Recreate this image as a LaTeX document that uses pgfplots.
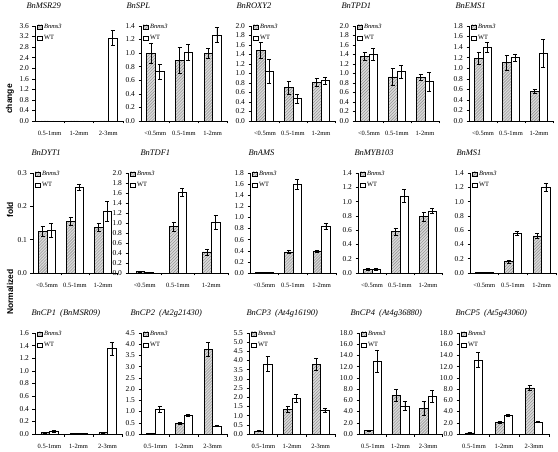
\documentclass[border=0pt]{standalone}
\usepackage{fontspec}
\setmainfont{Liberation Serif}
\newfontfamily\labelsans{Liberation Sans}
\usepackage{pgfplots}
\pgfplotsset{compat=1.18}
\usetikzlibrary{patterns}

\pgfplotsset{
  panel/.style={
    scale only axis, anchor=south west,
    axis x line=bottom, axis y line=left, axis line style={-, line width=0.6bp},
    xmin=-0.5, xmax=2.5, ymin=0,
    xtick={0,1,2}, major x tick style={draw=none},
    minor xtick={0.5,1.5,2.5}, minor x tick style={line width=0.5bp, black},
    tick align=outside, major tick length=2.5bp, minor tick length=2.5bp,
    ytick style={line width=0.5bp, black},
    ybar=0pt, bar width=8.6bp,
    y tick label style={font=\fontsize{7.5}{8}\selectfont, /pgf/number format/.cd, fixed, fixed zerofill, precision=1, assume math mode=true},
    x tick label style={font=\fontsize{6.5}{7}\selectfont, yshift=-4.5bp},
    scaled y ticks=false,
    title style={font=\fontsize{8.5}{9}\selectfont\itshape, at={(0,1)}, anchor=base west, yshift=12bp},
    legend style={at={(0,1)}, anchor=north west, xshift=2bp, yshift=4bp, draw=none, fill=none, font=\fontsize{6.5}{7}\selectfont, inner sep=0pt, row sep=1.5bp, cells={anchor=west}},
    legend image code/.code={\draw[#1, line width=0.5bp] (0bp,-2.2bp) rectangle (4.4bp,2.2bp);},
    clip=false,
  },
  ms/.style={draw=black, line width=0.6bp, fill=black!15, postaction={pattern=north east lines, pattern color=black!45},
    error bars/.cd, y dir=both, y explicit, error bar style={line width=0.6bp, black, solid},
    error mark options={rotate=90, mark size=2bp, line width=0.6bp, black}},
  wt/.style={draw=black, line width=0.6bp, fill=white,
    error bars/.cd, y dir=both, y explicit, error bar style={line width=0.6bp, black, solid},
    error mark options={rotate=90, mark size=2bp, line width=0.6bp, black}},
  labA/.style={xticklabels={0.5-1mm,1-2mm,2-3mm}},
  labB/.style={xticklabels={<0.5mm,0.5-1mm,1-2mm}},
}

\begin{document}
\begin{tikzpicture}
\path[use as bounding box] (0,0) rectangle (558bp,452bp);

\node[rotate=90, font=\labelsans\bfseries\fontsize{8.5}{9}\selectfont] at (10bp,353bp) {change};
\node[rotate=90, font=\labelsans\bfseries\fontsize{8.5}{9}\selectfont] at (10bp,242bp) {fold};
\node[rotate=90, font=\labelsans\bfseries\fontsize{8.5}{9}\selectfont] at (10bp,160bp) {Normalized};

% ---------------- Row 1 ----------------
\begin{axis}[panel, labA, at={(35bp,331bp)}, width=88bp, height=95bp, ymax=3.6,
  ytick={0,0.4,0.8,1.2,1.6,2.0,2.4,2.8,3.2,3.6}, title={BnMSR29}, title style={xshift=-12bp}]
\addplot[ms] coordinates {(0,0) +- (0,0) (1,0) +- (0,0) (2,0) +- (0,0)};
\addplot[wt] coordinates {(0,0) +- (0,0) (1,0) +- (0,0) (2,3.15) +- (0,0.27)};
\legend{\textit{Bnms3},WT}
\end{axis}

\begin{axis}[panel, labB, at={(141bp,331bp)}, width=86bp, height=95bp, ymax=1.4,
  ytick={0,0.2,0.4,0.6,0.8,1.0,1.2,1.4}, title={BnSPL}, title style={xshift=-18bp}]
\addplot[ms] coordinates {(0,1.00) +- (0,0.15) (1,0.89) +- (0,0.19) (2,1.00) +- (0,0.07)};
\addplot[wt] coordinates {(0,0.73) +- (0,0.11) (1,1.01) +- (0,0.12) (2,1.27) +- (0,0.11)};
\legend{\textit{Bnms3},WT}
\end{axis}

\begin{axis}[panel, labB, at={(251bp,331bp)}, width=84bp, height=95bp, ymax=2.0,
  ytick={0,0.2,0.4,0.6,0.8,1.0,1.2,1.4,1.6,1.8,2.0}, title={BnROXY2}, title style={xshift=-18bp}]
\addplot[ms] coordinates {(0,1.48) +- (0,0.17) (1,0.70) +- (0,0.13) (2,0.81) +- (0,0.08)};
\addplot[wt] coordinates {(0,1.05) +- (0,0.25) (1,0.47) +- (0,0.10) (2,0.85) +- (0,0.08)};
\legend{\textit{Bnms3},WT}
\end{axis}

\begin{axis}[panel, labB, at={(355bp,331bp)}, width=84bp, height=95bp, ymax=2.0,
  ytick={0,0.2,0.4,0.6,0.8,1.0,1.2,1.4,1.6,1.8,2.0}, title={BnTPD1}, title style={xshift=-17bp}]
\addplot[ms] coordinates {(0,1.36) +- (0,0.08) (1,0.93) +- (0,0.18) (2,0.92) +- (0,0.06)};
\addplot[wt] coordinates {(0,1.40) +- (0,0.12) (1,1.04) +- (0,0.14) (2,0.83) +- (0,0.20)};
\legend{\textit{Bnms3},WT}
\end{axis}

\begin{axis}[panel, labB, at={(469bp,331bp)}, width=84bp, height=95bp, ymax=1.8,
  ytick={0,0.2,0.4,0.6,0.8,1.0,1.2,1.4,1.6,1.8}, title={BnEMS1}, title style={xshift=-17bp}]
\addplot[ms] coordinates {(0,1.19) +- (0,0.12) (1,1.11) +- (0,0.14) (2,0.56) +- (0,0.04)};
\addplot[wt] coordinates {(0,1.40) +- (0,0.10) (1,1.20) +- (0,0.07) (2,1.28) +- (0,0.26)};
\legend{\textit{Bnms3},WT}
\end{axis}

% ---------------- Row 2 ----------------
\begin{axis}[panel, labB, at={(33bp,179bp)}, width=84bp, height=100bp, ymax=0.3,
  ytick={0,0.1,0.2,0.3}, title={BnDYT1}, title style={xshift=-5bp}]
\addplot[ms] coordinates {(0,0.125) +- (0,0.015) (1,0.155) +- (0,0.012) (2,0.137) +- (0,0.013)};
\addplot[wt] coordinates {(0,0.128) +- (0,0.020) (1,0.257) +- (0,0.010) (2,0.185) +- (0,0.030)};
\legend{\textit{Bnms3},WT}
\end{axis}

\begin{axis}[panel, labB, at={(128bp,179bp)}, width=100bp, height=100bp, ymax=2.0,
  ytick={0,0.2,0.4,0.6,0.8,1.0,1.2,1.4,1.6,1.8,2.0}, title={BnTDF1}, title style={xshift=9bp}]
\addplot[ms] coordinates {(0,0.03) +- (0,0.01) (1,0.93) +- (0,0.09) (2,0.42) +- (0,0.06)};
\addplot[wt] coordinates {(0,0.01) +- (0,0.005) (1,1.62) +- (0,0.08) (2,1.01) +- (0,0.14)};
\legend{\textit{Bnms3},WT}
\end{axis}

\begin{axis}[panel, labB, at={(250bp,179bp)}, width=86bp, height=100bp, ymax=1.8,
  ytick={0,0.2,0.4,0.6,0.8,1.0,1.2,1.4,1.6,1.8}, title={BnAMS}, title style={xshift=-5bp}]
\addplot[ms] coordinates {(0,0.01) +- (0,0) (1,0.38) +- (0,0.02) (2,0.39) +- (0,0.015)};
\addplot[wt] coordinates {(0,0.01) +- (0,0) (1,1.60) +- (0,0.09) (2,0.84) +- (0,0.05)};
\legend{\textit{Bnms3},WT}
\end{axis}

\begin{axis}[panel, labB, at={(358bp,179bp)}, width=84bp, height=100bp, ymax=1.4,
  ytick={0,0.2,0.4,0.6,0.8,1.0,1.2,1.4}, title={BnMYB103}, title style={xshift=-7bp}]
\addplot[ms] coordinates {(0,0.05) +- (0,0.01) (1,0.58) +- (0,0.05) (2,0.79) +- (0,0.06)};
\addplot[wt] coordinates {(0,0.05) +- (0,0.01) (1,1.08) +- (0,0.09) (2,0.87) +- (0,0.04)};
\legend{\textit{Bnms3},WT}
\end{axis}

\begin{axis}[panel, labB, at={(470bp,179bp)}, width=86bp, height=100bp, ymax=1.4,
  ytick={0,0.2,0.4,0.6,0.8,1.0,1.2,1.4}, title={BnMS1}, title style={xshift=-17bp}]
\addplot[ms] coordinates {(0,0.01) +- (0,0) (1,0.16) +- (0,0.02) (2,0.52) +- (0,0.03)};
\addplot[wt] coordinates {(0,0.01) +- (0,0) (1,0.56) +- (0,0.03) (2,1.20) +- (0,0.06)};
\legend{\textit{Bnms3},WT}
\end{axis}

% ---------------- Row 3 ----------------
\begin{axis}[panel, labA, at={(35bp,18bp)}, width=87bp, height=101bp, ymax=1.6,
  ytick={0,0.2,0.4,0.6,0.8,1.0,1.2,1.4,1.6}, title={BnCP1~~(BnMSR09)}, title style={xshift=-7bp}]
\addplot[ms] coordinates {(0,0.02) +- (0,0.005) (1,0.01) +- (0,0) (2,0.02) +- (0,0.005)};
\addplot[wt] coordinates {(0,0.04) +- (0,0.02) (1,0.005) +- (0,0) (2,1.35) +- (0,0.11)};
\legend{\textit{Bnms3},WT}
\end{axis}

\begin{axis}[panel, labA, at={(141bp,18bp)}, width=86bp, height=101bp, ymax=4.5,
  ytick={0,0.5,1.0,1.5,2.0,2.5,3.0,3.5,4.0,4.5}, title={BnCP2~~(At2g21430)}, title style={xshift=-14bp}]
\addplot[ms] coordinates {(0,0.02) +- (0,0) (1,0.47) +- (0,0.05) (2,3.78) +- (0,0.30)};
\addplot[wt] coordinates {(0,1.10) +- (0,0.14) (1,0.82) +- (0,0.05) (2,0.36) +- (0,0.03)};
\legend{\textit{Bnms3},WT}
\end{axis}

\begin{axis}[panel, labA, at={(249bp,18bp)}, width=86bp, height=101bp, ymax=5.5,
  ytick={0,0.5,1.0,1.5,2.0,2.5,3.0,3.5,4.0,4.5,5.0,5.5}, title={BnCP3~~(At4g16190)}, title style={xshift=-6bp}]
\addplot[ms] coordinates {(0,0.17) +- (0,0.03) (1,1.36) +- (0,0.17) (2,3.80) +- (0,0.32)};
\addplot[wt] coordinates {(0,3.82) +- (0,0.42) (1,1.92) +- (0,0.22) (2,1.30) +- (0,0.12)};
\legend{\textit{Bnms3},WT}
\end{axis}

\begin{axis}[panel, labA, at={(359bp,18bp)}, width=83bp, height=101bp, ymax=18,
  ytick={0,2,4,6,8,10,12,14,16,18}, title={BnCP4~~(At4g36880)}, title style={xshift=-12bp}]
\addplot[ms] coordinates {(0,0.6) +- (0,0.1) (1,6.9) +- (0,1.0) (2,4.6) +- (0,1.2)};
\addplot[wt] coordinates {(0,13.0) +- (0,2.0) (1,5.0) +- (0,0.8) (2,6.7) +- (0,1.1)};
\legend{\textit{Bnms3},WT}
\end{axis}

\begin{axis}[panel, labA, at={(459bp,18bp)}, width=90bp, height=101bp, ymax=18,
  ytick={0,2,4,6,8,10,12,14,16,18}, title={BnCP5~~(At5g43060)}, title style={xshift=-7bp}]
\addplot[ms] coordinates {(0,0.2) +- (0,0.05) (1,2.1) +- (0,0.2) (2,8.2) +- (0,0.4)};
\addplot[wt] coordinates {(0,13.2) +- (0,1.3) (1,3.4) +- (0,0.2) (2,2.1) +- (0,0.1)};
\legend{\textit{Bnms3},WT}
\end{axis}

\end{tikzpicture}
\end{document}
